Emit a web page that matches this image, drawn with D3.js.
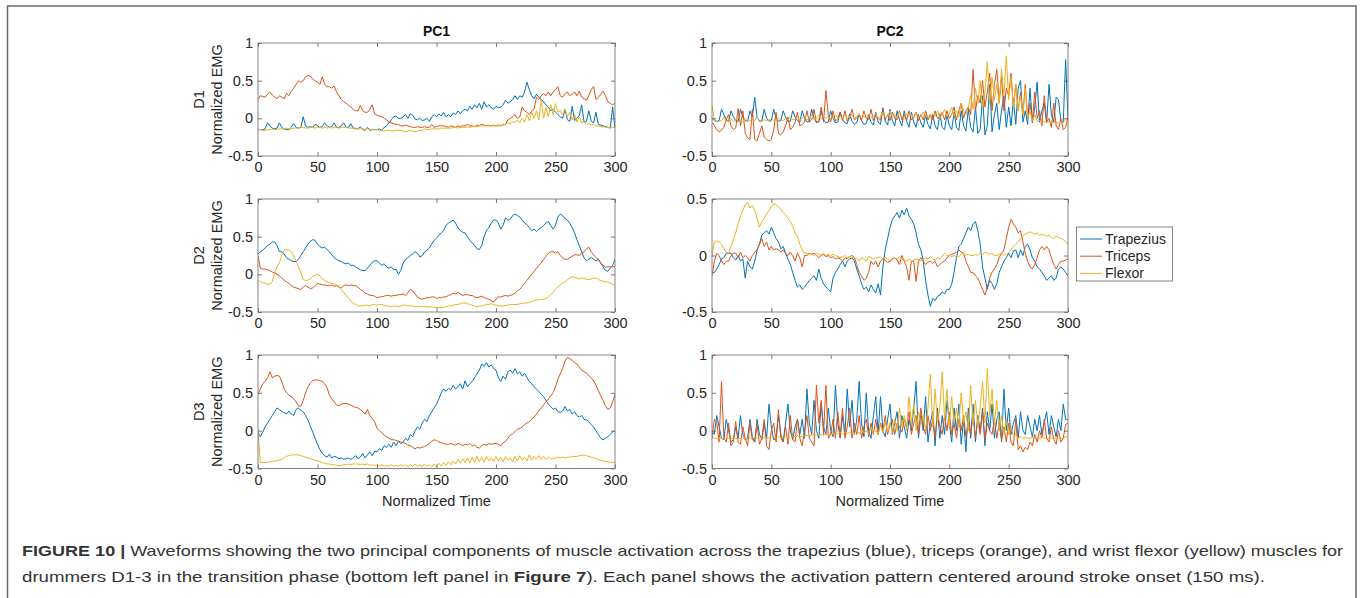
<!DOCTYPE html>
<html><head><meta charset="utf-8">
<script src="https://cdn.jsdelivr.net/npm/d3@7"></script>
<style>body{margin:0;background:#fff}svg{display:block}</style>
</head><body><svg id="c" width="1360" height="598"></svg>
<script>
// ---------- DATA (normalized time 0..300, sampled every 2 units) ----------
const timeStep = 2;
const xTicks = [0, 50, 100, 150, 200, 250, 300];
const yTicksFull = [-0.5, 0, 0.5, 1];
const yTicksHalf = [-0.5, 0, 0.5];
const muscles = ["Trapezius", "Triceps", "Flexor"];
const rowLabels = ["D1", "D2", "D3"];
const colTitles = ["PC1", "PC2"];

// D1 PC1
const d1Pc1Trapezius = [-.15,-.15,-.15,-.14,-.06,-.1,-.13,-.14,-.13,-.06, -.12,-.14,-.15,-.15,-.12,-.07,-.12,-.13,-.12,.02, -.1,-.12,-.11,-.12,-.08,-.1,-.12,-.11,-.06,-.1, -.12,-.11,-.06,-.12,-.12,-.1,-.06,-.12,-.12,-.07, -.13,-.14,-.14,-.11,-.15,-.16,-.12,-.16,-.15,-.15, -.15,-.14,-.16,-.12,-.1,-.06,-.02,.02,.03,.0, .0,.02,.05,.0,.06,.04,-.01,-.02,.0,-.03, -.02,.0,-.04,.02,.05,.02,.06,.03,.08,.02, .05,.02,.07,.05,.1,.06,.1,.12,.1,.16, .12,.18,.14,.2,.12,.22,.15,.18,.14,.12, .16,.14,.15,.18,.24,.2,.22,.25,.3,.25, .3,.28,.35,.48,.38,.3,.26,.32,.28,.25, .22,.18,.15,.1,.12,.08,.05,.02,.0,.12, -.02,-.04,.16,-.03,.0,.04,.18,-.05,-.04,.1, -.04,-.06,.08,-.08,-.09,-.1,-.11,-.12,-.13,.15, -.13];
const d1Pc1Triceps = [.25,.3,.29,.28,.32,.35,.31,.28,.26,.3, .28,.26,.33,.3,.36,.4,.45,.5,.48,.5, .55,.57,.56,.52,.5,.48,.45,.55,.45,.42, .42,.4,.43,.35,.3,.25,.22,.2,.17,.15, .12,.1,.1,.17,.1,.08,.08,.12,.18,.06, .04,.03,.02,.0,-.02,-.05,-.06,-.07,-.08,-.08, -.1,-.1,-.09,-.1,-.11,-.12,-.12,-.11,-.12,-.12, -.11,-.12,-.12,-.08,-.12,-.11,-.1,-.1,-.1,-.11, -.12,-.1,-.11,-.12,-.1,-.11,-.1,-.1,-.08,-.1, -.1,-.11,-.09,-.1,-.08,-.09,-.1,-.09,-.1,-.09, -.1,-.09,-.1,-.08,-.08,-.02,.0,.02,.05,.0, .02,.15,.1,.08,.05,.1,.12,.28,.25,.3, .33,.3,.35,.3,.35,.38,.42,.3,.28,.33, .35,.3,.32,.35,.3,.36,.28,.26,.24,.3, .38,.42,.25,.28,.32,.36,.3,.22,.2,.18, .2];
const d1Pc1Flexor = [-.15,-.15,-.16,-.16,-.15,-.15,-.14,-.15,-.15,-.14, -.14,-.14,-.13,-.14,-.14,-.13,-.13,-.13,-.12,-.12, -.13,-.13,-.12,-.12,-.13,-.12,-.12,-.13,-.12,-.13, -.12,-.13,-.12,-.12,-.13,-.12,-.12,-.12,-.13,-.13, -.13,-.13,-.14,-.14,-.14,-.15,-.14,-.15,-.15,-.15, -.15,-.16,-.16,-.17,-.16,-.16,-.17,-.17,-.16,-.16, -.16,-.17,-.18,-.17,-.16,-.17,-.18,-.17,-.16,-.16, -.14,-.15,-.15,-.14,-.14,-.14,-.14,-.13,-.13,-.13, -.13,-.13,-.12,-.12,-.13,-.12,-.12,-.12,-.11,-.12, -.11,-.11,-.11,-.1,-.1,-.1,-.1,-.1,-.1,-.1, -.1,-.1,-.1,-.09,-.08,-.06,-.08,-.04,-.06,-.02, -.06,.0,-.05,.05,-.03,.08,.0,.1,-.02,.25, .0,.15,.02,.18,.05,.2,.08,.1,.05,.12, .02,.08,-.02,.05,-.05,.02,-.06,-.04,-.08,-.07, -.09,-.08,-.1,-.1,-.11,-.11,-.12,-.12,-.12,-.12, -.12];

// D1 PC2
const d1Pc2Trapezius = [.0,-.03,-.04,-.03,.12,.05,-.02,-.04,.1,.02, -.03,-.04,.12,.02,-.03,-.04,.1,.02,.28,.02, -.04,-.03,.12,.0,-.04,-.03,.12,.0,-.04,-.03, .1,.02,-.04,-.04,.1,.02,-.03,-.05,.1,.0, -.05,-.04,.12,.0,-.05,-.05,.1,-.02,-.06,-.05, .1,.0,-.06,-.05,.08,-.02,-.06,-.07,.06,-.04, -.08,-.06,.06,-.03,-.08,-.07,.05,-.05,-.09,.08, -.05,-.08,.14,-.04,-.09,.12,-.03,-.1,.1,-.02, -.1,.1,-.04,-.12,.08,-.05,-.12,.05,-.06,-.12, .04,-.08,-.14,.05,-.1,-.15,.06,-.12,-.15,.05, -.1,-.15,.08,-.12,-.16,.1,-.1,-.17,.12,-.12, -.18,.15,-.2,-.15,.3,-.22,-.1,.45,-.18,.05, .2,-.15,.1,.3,-.12,.15,-.1,.25,-.08,.4, .5,-.05,.1,-.08,.4,-.06,.15,.48,-.05,.1, .2,-.06,.45,.05,-.05,.28,.25,-.04,-.05,.78, .0];
const d1Pc2Triceps = [-.05,-.1,-.15,-.18,-.16,-.12,-.02,.05,-.1,-.15, -.13,.13,-.1,.1,-.2,-.26,-.28,.12,-.28,-.3, -.2,-.1,-.25,-.28,-.3,-.28,-.15,.08,-.2,-.22, -.18,-.1,.02,-.15,-.12,-.05,.08,-.1,-.08,-.05, .1,-.05,-.02,.12,-.06,-.04,.15,-.05,.37,.05, -.05,.1,-.04,.0,.08,-.03,.1,-.04,.0,.12, -.02,.0,.05,-.03,.1,.0,-.02,.12,-.03,.05, .0,-.02,.12,-.02,.05,-.03,.08,.0,-.02,.1, -.02,.05,-.03,.1,-.02,.02,.08,-.03,.05,-.02, .1,-.02,.05,-.02,.1,.0,.02,.08,-.02,.1, .0,.05,.15,-.02,.1,.2,.0,.1,.15,.05, .65,.1,.3,.2,.5,.15,.35,.6,.1,.45, .65,.2,.55,.1,.4,.3,.6,.15,.45,.1, .35,.05,.45,.0,.2,-.05,.35,.0,.1,-.1, .3,-.05,.0,-.12,.2,-.1,-.15,.0,-.15,-.12, .02];
const d1Pc2Flexor = [.17,-.02,-.04,-.04,-.03,.02,-.04,-.03,.0,-.04, -.03,.02,-.03,-.04,.0,-.04,-.03,-.02,-.03,.02, -.03,-.04,-.02,-.03,-.02,.0,-.03,-.02,.0,-.02, -.03,.0,-.02,.02,-.02,-.01,.02,-.02,.0,.03, -.02,.0,.05,-.02,.0,.04,-.01,.02,.0,.03, .0,.02,.05,.0,.02,.0,.04,.0,.02,.05, .0,.02,.06,.0,.03,.0,.05,.01,.03,.06, .0,.03,.08,.01,.03,.1,.02,.05,.0,.08, .03,.0,.06,.02,.05,.0,.07,.02,.03,.08, .02,.04,.0,.06,.03,.1,.01,.05,.12,.02, .06,.15,.03,.1,.02,.2,.1,.05,.15,.3, .12,.4,.2,.5,.15,.35,.75,.2,.55,.25, .45,.2,.65,.3,.83,.25,.55,.15,.45,.1, .3,.05,.4,.0,.1,-.03,.05,-.04,-.03,-.05, -.04,-.05,-.04,-.05,-.06,-.05,-.06,-.05,-.06,-.02, .02];

// D2 PC1
const d2Pc1Trapezius = [.27,.3,.32,.35,.38,.4,.43,.43,.38,.3, .3,.27,.22,.2,.18,.17,.17,.2,.25,.3, .35,.4,.44,.46,.45,.4,.37,.35,.36,.33, .3,.26,.22,.2,.18,.17,.15,.14,.15,.12, .12,.1,.08,.06,.05,.05,.08,.12,.16,.18, .18,.15,.12,.14,.1,.08,.1,.06,.07,.0, .05,.15,.2,.22,.25,.27,.3,.28,.23,.25, .3,.32,.35,.4,.45,.48,.52,.55,.58,.65, .68,.7,.72,.68,.62,.58,.56,.55,.5,.45, .42,.38,.34,.33,.38,.5,.58,.62,.68,.72, .72,.68,.6,.65,.75,.72,.73,.78,.8,.78, .76,.72,.68,.66,.62,.58,.6,.57,.6,.62, .65,.68,.7,.65,.6,.65,.76,.8,.78,.74, .72,.68,.62,.55,.46,.38,.3,.22,.18,.2, .22,.2,.18,.2,.15,.1,.05,.04,.08,.12, .2];
const d2Pc1Triceps = [.25,.08,.07,.07,.06,.05,.03,.02,.0,-.02, -.05,-.08,-.1,-.12,-.15,-.17,-.18,-.19,-.2,-.17, -.15,-.17,-.19,-.18,-.15,-.12,-.13,-.14,-.14,-.15, -.15,-.14,-.16,-.15,-.17,-.18,-.15,-.14,-.15,-.14, -.15,-.15,-.17,-.2,-.22,-.25,-.26,-.28,-.28,-.29, -.31,-.3,-.3,-.29,-.28,-.28,-.29,-.28,-.28,-.27, -.27,-.26,-.28,-.24,-.2,-.22,-.26,-.3,-.32,-.33, -.32,-.31,-.31,-.3,-.3,-.32,-.31,-.31,-.3,-.3, -.28,-.27,-.25,-.26,-.24,-.26,-.28,-.27,-.27,-.28, -.28,-.3,-.31,-.3,-.29,-.31,-.32,-.33,-.35,-.37, -.33,-.3,-.3,-.29,-.28,-.29,-.28,-.27,-.25,-.22, -.2,-.16,-.12,-.08,-.04,.0,.04,.08,.12,.15, .2,.24,.28,.3,.3,.28,.3,.25,.22,.2, .2,.22,.24,.26,.26,.25,.28,.3,.34,.36, .3,.26,.22,.2,.15,.12,.1,.1,.1,.1, .1];
const d2Pc1Flexor = [-.08,-.1,-.11,-.12,-.13,-.13,-.1,.02,.1,.15, .25,.32,.33,.32,.3,.24,.18,.1,.02,-.07, -.08,-.08,-.06,-.03,-.01,.0,-.02,-.06,-.08,-.1, -.11,-.12,-.13,-.14,-.16,-.2,-.24,-.28,-.32,-.36, -.38,-.4,-.42,-.42,-.42,-.41,-.41,-.42,-.4,-.4, -.41,-.4,-.4,-.41,-.42,-.42,-.43,-.42,-.42,-.43, -.42,-.41,-.41,-.42,-.42,-.42,-.43,-.43,-.42,-.43, -.43,-.43,-.44,-.43,-.44,-.44,-.44,-.44,-.44,-.43, -.42,-.42,-.41,-.4,-.4,-.39,-.38,-.38,-.39,-.4, -.41,-.42,-.43,-.42,-.42,-.41,-.4,-.4,-.39,-.4, -.41,-.42,-.42,-.42,-.41,-.41,-.4,-.4,-.4,-.4, -.39,-.39,-.38,-.38,-.37,-.36,-.35,-.34,-.34,-.33, -.33,-.32,-.3,-.27,-.24,-.2,-.17,-.14,-.12,-.1, -.07,-.05,-.03,-.04,-.05,-.06,-.05,-.06,-.06,-.07, -.06,-.05,-.05,-.07,-.08,-.09,-.1,-.1,-.12,-.13, -.15];

// D2 PC2
const d2Pc2Trapezius = [-.15,-.15,-.12,-.08,-.03,-.02,.02,.02,.02,-.02, -.04,.0,-.05,-.03,-.2,-.05,-.1,-.12,-.05,.05, .1,.18,.2,.22,.19,.25,.2,.15,.12,.06, .08,.02,-.03,-.08,-.15,-.22,-.28,-.26,-.3,-.28, -.25,-.22,-.2,-.18,-.22,-.12,-.2,-.25,-.28,-.3, -.32,-.2,-.15,-.12,-.08,-.05,-.1,-.05,-.03,-.02, -.05,-.12,-.18,-.25,-.3,-.28,-.32,-.26,-.3,-.33, -.25,-.35,-.1,.05,.15,.25,.32,.35,.38,.33, .4,.36,.42,.35,.32,.28,.2,.1,.05,-.05, -.22,-.35,-.45,-.38,-.4,-.36,-.35,-.32,-.34,-.3, -.3,-.25,-.15,-.02,.08,.1,.15,.2,.25,.22, .28,.3,.22,.1,-.1,-.2,-.3,-.22,-.25,-.3, -.25,-.15,-.1,-.05,-.02,.02,-.02,.04,.05,-.02, .05,.0,.08,.1,.05,-.02,-.05,-.1,-.12,-.15, -.18,-.22,-.2,-.18,-.22,-.2,-.12,-.1,-.12,-.15, -.18];
const d2Pc2Triceps = [-.18,-.05,.02,.0,-.05,-.08,-.05,-.05,.0,.02, .02,-.02,.03,-.02,.0,-.02,-.05,.0,.03,.05, .1,.15,.08,.12,.05,.08,.05,.06,.05,.03, .05,.02,.0,.03,.0,-.05,.02,-.02,-.1,.0, .0,.02,.01,.02,.0,-.02,.0,.01,-.01,.0, -.02,-.01,-.03,-.02,-.03,-.05,-.02,-.03,-.01,.0, -.02,-.08,-.15,-.18,-.22,-.2,-.15,-.05,-.08,-.05, -.1,-.05,-.03,-.04,-.06,-.05,-.03,-.02,-.04,-.08, .0,-.05,-.1,-.22,-.05,-.05,-.23,-.05,-.02,-.05, -.08,-.06,-.05,-.07,-.05,-.1,-.08,-.06,-.05,-.02, .0,.01,.02,.03,.05,.03,.02,-.05,-.1,-.15, -.15,-.18,-.2,-.25,-.3,-.35,-.28,-.2,-.15,-.12, -.08,-.02,.02,.05,.15,.25,.32,.28,.25,.2, .22,.12,.02,-.05,-.1,-.12,-.08,-.02,.05,.08, .05,.08,.05,-.02,-.08,-.12,-.08,-.05,-.05,-.04, -.03];
const d2Pc2Flexor = [.0,.12,.13,.12,.1,.06,.03,.02,.08,.14, .2,.28,.35,.4,.45,.47,.42,.44,.4,.33, .25,.3,.33,.37,.4,.43,.46,.45,.43,.41, .38,.36,.33,.3,.26,.2,.17,.1,.05,.02, .02,.01,.02,.0,.02,.01,.0,.02,.0,.01, .0,.01,.0,-.01,-.02,-.01,.0,-.02,-.01,-.02, -.02,-.03,-.05,-.02,-.03,-.05,-.01,-.02,-.03,-.02, -.02,-.01,-.03,-.02,-.03,-.05,-.04,-.02,-.03,-.01, -.03,-.04,-.05,-.03,-.05,-.04,-.03,-.04,-.05,-.03, -.02,-.03,-.01,-.03,-.04,-.02,-.03,-.01,.02,.0, .0,-.01,.0,-.02,-.01,.01,.02,.0,.01,.0, .0,.01,.0,.02,.01,.03,.02,.01,.02,.0, .0,.01,.02,.0,.01,.03,.05,.08,.1,.12, .15,.17,.19,.2,.21,.2,.19,.2,.18,.19, .18,.17,.18,.16,.15,.17,.16,.15,.14,.12, .1];

// D3 PC1
const d3Pc1Trapezius = [-.02,-.08,-.02,.05,.1,.15,.2,.25,.3,.28, .25,.24,.22,.26,.22,.2,.28,.3,.27,.25, .2,.14,.06,-.02,-.1,-.18,-.25,-.3,-.33,-.35, -.31,-.36,-.34,-.35,-.37,-.36,-.38,-.37,-.36,-.38, -.36,-.33,-.37,-.35,-.3,-.36,-.32,-.28,-.33,-.27, -.28,-.24,-.26,-.2,-.22,-.18,-.22,-.15,-.2,-.14, -.17,-.15,-.1,-.13,-.05,-.08,.0,.05,.02,.1, .15,.12,.2,.25,.3,.35,.42,.5,.55,.52, .56,.54,.6,.55,.58,.62,.55,.66,.58,.62, .65,.7,.75,.8,.88,.85,.9,.84,.87,.82, .8,.7,.65,.72,.68,.78,.8,.76,.82,.75, .78,.72,.76,.7,.65,.62,.58,.55,.52,.48, .45,.4,.35,.32,.28,.3,.25,.24,.26,.32, .26,.28,.22,.25,.2,.18,.2,.15,.14,.12, .08,.05,.0,-.05,-.1,-.12,-.1,-.08,-.05,-.02, .0];
const d3Pc1Triceps = [.48,.55,.62,.65,.7,.78,.7,.72,.73,.72, .65,.55,.5,.47,.45,.42,.38,.33,.32,.4, .5,.58,.63,.66,.67,.67,.66,.65,.62,.57, .47,.42,.38,.34,.33,.35,.36,.36,.35,.34, .32,.31,.3,.28,.25,.22,.28,.2,.16,.12, .03,.0,-.03,-.06,-.08,-.1,-.12,-.12,-.13,-.14, -.15,-.16,-.17,-.19,-.2,-.22,-.24,-.22,-.23,-.22, -.21,-.19,-.17,-.14,-.12,-.13,-.15,-.16,-.17,-.18, -.18,-.17,-.18,-.19,-.17,-.18,-.2,-.18,-.19,-.17, -.2,-.19,-.22,-.23,-.2,-.18,-.19,-.17,-.18,-.17, -.17,-.18,-.2,-.16,-.14,-.1,-.06,-.04,-.01,.02, .03,.05,.08,.1,.12,.15,.18,.22,.26,.3, .34,.38,.42,.46,.5,.58,.68,.75,.82,.92, .97,.95,.93,.9,.88,.84,.8,.78,.76,.73, .7,.66,.6,.53,.46,.4,.33,.28,.3,.38, .48];
const d3Pc1Flexor = [.0,-.42,-.42,-.42,-.42,-.41,-.41,-.4,-.4,-.39, -.38,-.36,-.34,-.33,-.32,-.32,-.32,-.32,-.33,-.34, -.35,-.36,-.37,-.38,-.39,-.4,-.41,-.42,-.43,-.44, -.44,-.45,-.45,-.46,-.46,-.46,-.45,-.45,-.44,-.45, -.44,-.44,-.44,-.45,-.44,-.45,-.44,-.46,-.45,-.46, -.45,-.47,-.45,-.47,-.46,-.47,-.45,-.47,-.46,-.47, -.45,-.47,-.45,-.48,-.45,-.47,-.44,-.47,-.45,-.48, -.44,-.47,-.45,-.48,-.44,-.47,-.43,-.47,-.42,-.46, -.41,-.45,-.4,-.44,-.38,-.43,-.37,-.42,-.36,-.43, -.35,-.42,-.34,-.41,-.35,-.42,-.34,-.4,-.36,-.41, -.34,-.4,-.35,-.41,-.34,-.39,-.36,-.41,-.34,-.4, -.33,-.39,-.35,-.4,-.32,-.39,-.34,-.38,-.33,-.38, -.34,-.38,-.35,-.37,-.36,-.37,-.35,-.36,-.35,-.36, -.35,-.35,-.34,-.34,-.34,-.33,-.33,-.32,-.33,-.34, -.35,-.36,-.37,-.38,-.39,-.4,-.41,-.41,-.42,-.42, -.42];

// D3 PC2
const d3Pc2Trapezius = [.0,-.05,.2,.05,-.1,-.12,.15,.0,-.15,-.12, .05,-.1,.2,-.05,-.12,-.1,.15,-.08,-.15,.15, -.05,-.12,.1,-.1,.35,.05,-.12,-.1,.2,-.05, -.15,.1,.35,.0,-.12,.05,.15,-.05,.15,-.1, .55,.1,-.05,.4,.0,-.1,.35,.05,-.05,.3, .0,-.08,.6,.1,-.1,.2,-.05,.55,.05,.4, -.05,.15,.65,.1,-.08,.5,.0,-.1,.2,.45, -.05,.45,.0,-.08,.15,.35,-.05,.1,.25,-.1, .2,.05,-.1,.15,.0,.3,.65,-.1,.2,.0, .45,-.15,.1,.25,-.2,.3,-.1,.2,-.05,.4, .1,-.15,.3,.0,.35,-.18,.15,-.28,.3,-.1, .35,-.15,.2,.0,.3,-.2,.25,.0,.35,-.1, .15,.25,-.15,.55,.0,.3,-.05,.1,.2,-.1, .25,.0,-.05,.2,.05,-.08,.15,.0,.2,-.05, .1,.25,-.05,.2,.05,-.08,.15,.0,.35,.15, .15];
const d3Pc2Triceps = [-.1,.15,.12,-.15,.65,-.1,-.15,.1,-.2,-.15, .12,-.15,-.18,.05,-.1,-.2,.1,-.12,-.15,.08, -.18,-.1,.15,-.2,-.25,.0,.1,-.15,.28,-.1, -.15,.05,-.18,.2,-.12,-.15,.15,-.1,-.2,.0, .2,-.1,-.15,-.2,.6,.1,.4,-.05,.6,-.1, -.05,.15,-.1,.25,-.08,.3,-.1,.05,.3,-.1, .1,-.05,.2,-.1,.05,.15,-.08,.1,-.05,.15, -.05,.1,.0,.2,-.05,.08,.15,-.05,.1,.05, -.02,.15,.05,.25,-.05,.1,.2,-.05,.3,.05, -.05,.2,.0,.15,-.1,.25,.05,-.05,.2,.0, .25,-.05,.1,-.1,.15,.0,.2,-.08,.1,-.05, .2,-.1,.15,-.05,.25,-.12,.1,.0,-.05,.15, -.1,.1,-.12,.05,-.15,.1,-.15,-.2,.15,-.25, -.2,-.28,-.22,-.25,-.15,-.2,-.05,-.15,.0,-.1, .15,-.1,-.15,.05,-.12,-.18,.0,-.15,-.1,.08, .1];
const d3Pc2Flexor = [-.1,-.1,-.11,-.1,-.1,-.11,-.1,-.1,-.11,-.1, -.1,-.11,-.1,-.1,-.1,-.11,-.1,-.1,-.09,-.1, -.09,-.1,-.09,-.09,-.1,-.08,-.09,-.09,-.08,-.09, -.08,-.08,-.09,-.08,-.07,-.08,-.07,-.08,-.07,-.07, -.06,-.07,-.06,-.05,-.06,-.05,-.05,-.06,-.04,-.05, -.05,-.04,-.05,-.04,-.03,-.05,-.03,-.04,-.02,-.04, -.03,.0,-.04,.02,-.03,.0,-.04,.05,-.03,.0, -.04,.08,-.03,.12,-.02,.1,-.03,.15,.0,.3, .05,.2,.0,.45,.1,.35,.0,.25,.1,.2, .0,.3,.75,.05,.55,.1,.3,.78,.15,.55, .05,.45,.1,.3,.05,.5,.1,.25,.0,.6, .1,.4,.05,.3,.65,.1,.82,.2,.55,.1, .4,.0,.2,-.05,.15,-.05,.05,-.08,-.05,-.1, -.08,-.1,-.09,-.1,-.1,-.09,-.1,-.1,-.1,-.09, -.1,-.1,-.1,-.1,-.1,-.1,-.1,-.1,-.1,-.08, -.08];

// ---------- DRAWING ----------
const time = d3.range(0, 301, timeStep);
const colors = ["#0072BD", "#D95319", "#EDB120"];
const FONT = '"Liberation Sans", Arial, Helvetica, sans-serif';
const TXT = "#262626";

const panels = [
  {r:0, c:0, dom:[-0.5,1], yt:yTicksFull, s:[d1Pc1Trapezius, d1Pc1Triceps, d1Pc1Flexor]},
  {r:0, c:1, dom:[-0.5,1], yt:yTicksFull, s:[d1Pc2Trapezius, d1Pc2Triceps, d1Pc2Flexor]},
  {r:1, c:0, dom:[-0.5,1], yt:yTicksFull, s:[d2Pc1Trapezius, d2Pc1Triceps, d2Pc1Flexor]},
  {r:1, c:1, dom:[-0.5,0.5], yt:yTicksHalf, s:[d2Pc2Trapezius, d2Pc2Triceps, d2Pc2Flexor]},
  {r:2, c:0, dom:[-0.5,1], yt:yTicksFull, s:[d3Pc1Trapezius, d3Pc1Triceps, d3Pc1Flexor]},
  {r:2, c:1, dom:[-0.5,1], yt:yTicksFull, s:[d3Pc2Trapezius, d3Pc2Triceps, d3Pc2Flexor]}
];
const cols = [{x0:258, x1:615}, {x0:712, x1:1068}];
const rows = [{y0:43, y1:156}, {y0:199, y1:312}, {y0:355, y1:468.5}];

const svg = d3.select("#c");
svg.append("rect").attr("width",1360).attr("height",598).attr("fill","#fff");
svg.append("rect").attr("x",7.5).attr("y",6).attr("width",1348.5).attr("height",640)
  .attr("fill","none").attr("stroke","#6a6a6a").attr("stroke-width",1.5);

const defs = svg.append("defs");

panels.forEach((p, idx) => {
  const {x0, x1} = cols[p.c];
  const {y0, y1} = rows[p.r];
  const x = d3.scaleLinear().domain([0,300]).range([x0,x1]);
  const y = d3.scaleLinear().domain(p.dom).range([y1,y0]);
  const g = svg.append("g");

  defs.append("clipPath").attr("id","clip"+idx).append("rect")
    .attr("x",x0).attr("y",y0).attr("width",x1-x0).attr("height",y1-y0);

  const line = d3.line().x((d,i)=>x(time[i])).y(d=>y(d));
  p.s.forEach((arr, k) => {
    g.append("path").datum(arr).attr("d", line).attr("fill","none")
      .attr("stroke", colors[k]).attr("stroke-width",1)
      .attr("stroke-linejoin","round").attr("clip-path","url(#clip"+idx+")");
  });

  const styleAxis = a => {
    a.select(".domain").remove();
    a.selectAll(".tick line").attr("stroke","#555").attr("stroke-width",0.8);
    a.selectAll("text").attr("fill",TXT).style("font-family",FONT).style("font-size","14.5px");
  };
  g.append("g").attr("transform",`translate(0,${y1})`)
    .call(d3.axisBottom(x).tickValues(xTicks).tickSizeInner(-4).tickSizeOuter(0).tickPadding(6).tickFormat(d=>String(d)))
    .call(styleAxis);
  g.append("g").attr("transform",`translate(0,${y0})`)
    .call(d3.axisTop(x).tickValues(xTicks).tickSizeInner(-4).tickSizeOuter(0).tickFormat(""))
    .call(styleAxis);
  g.append("g").attr("transform",`translate(${x0},0)`)
    .call(d3.axisLeft(y).tickValues(p.yt).tickSizeInner(-4).tickSizeOuter(0).tickPadding(5).tickFormat(d=>String(d)))
    .call(styleAxis);
  g.append("g").attr("transform",`translate(${x1},0)`)
    .call(d3.axisRight(y).tickValues(p.yt).tickSizeInner(-4).tickSizeOuter(0).tickFormat(""))
    .call(styleAxis);

  g.append("rect").attr("x",x0).attr("y",y0).attr("width",x1-x0).attr("height",y1-y0)
    .attr("fill","none").attr("stroke","#777").attr("stroke-width",0.9);

  if (p.r === 0) {
    g.append("text").attr("x",(x0+x1)/2).attr("y",36).attr("text-anchor","middle")
      .style("font-family",FONT).style("font-size","14px").style("font-weight","bold")
      .attr("fill","#111").text(colTitles[p.c]);
  }
  if (p.r === 2) {
    g.append("text").attr("x",(x0+x1)/2).attr("y",506).attr("text-anchor","middle")
      .style("font-family",FONT).style("font-size","14.5px").attr("fill",TXT).text("Normalized Time");
  }
  if (p.c === 0) {
    const cy = (y0+y1)/2;
    g.append("text").attr("transform",`translate(199,${cy}) rotate(-90)`).attr("text-anchor","middle")
      .attr("dy","0.35em").style("font-family",FONT).style("font-size","14.5px").attr("fill",TXT).text(rowLabels[p.r]);
    g.append("text").attr("transform",`translate(217,${cy}) rotate(-90)`).attr("text-anchor","middle")
      .attr("dy","0.35em").style("font-family",FONT).style("font-size","14.5px").attr("fill",TXT).text("Normalized EMG");
  }
});

// legend (middle-right panel)
const lg = svg.append("g");
lg.append("rect").attr("x",1076.5).attr("y",227).attr("width",96).attr("height",54)
  .attr("fill","#fff").attr("stroke","#777").attr("stroke-width",0.9);
muscles.forEach((m,k) => {
  const ly = 239 + k*17.2;
  lg.append("line").attr("x1",1080).attr("x2",1102).attr("y1",ly).attr("y2",ly)
    .attr("stroke",colors[k]).attr("stroke-width",1);
  lg.append("text").attr("x",1105).attr("y",ly).attr("dy","0.35em")
    .style("font-family",FONT).style("font-size","14px").attr("fill",TXT).text(m);
});

// caption
const cap1 = svg.append("text").attr("x",22).attr("y",556)
  .style("font-family",FONT).style("font-size","14.5px").attr("fill","#333")
  .attr("textLength",1321).attr("lengthAdjust","spacingAndGlyphs");
cap1.append("tspan").style("font-weight","bold").text("FIGURE 10 | ");
cap1.append("tspan").text("Waveforms showing the two principal components of muscle activation across the trapezius (blue), triceps (orange), and wrist flexor (yellow) muscles for");
const cap2 = svg.append("text").attr("x",22).attr("y",582)
  .style("font-family",FONT).style("font-size","14.5px").attr("fill","#333")
  .attr("textLength",1243).attr("lengthAdjust","spacingAndGlyphs");
cap2.append("tspan").text("drummers D1-3 in the transition phase (bottom left panel in ");
cap2.append("tspan").style("font-weight","bold").text("Figure 7");
cap2.append("tspan").text("). Each panel shows the activation pattern centered around stroke onset (150 ms).");
</script>
</body></html>
